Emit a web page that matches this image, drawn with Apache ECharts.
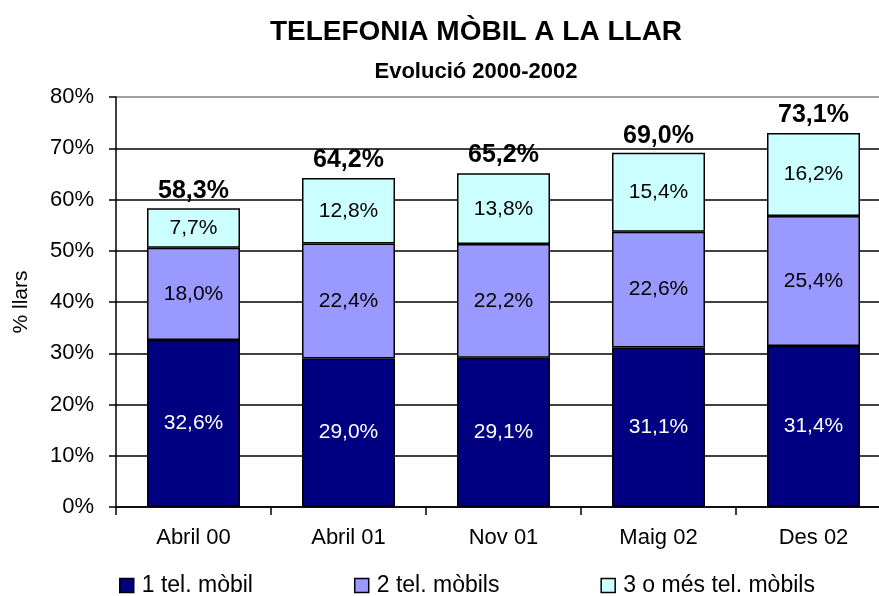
<!DOCTYPE html>
<html>
<head>
<meta charset="utf-8">
<script src="https://cdn.jsdelivr.net/npm/echarts@6/dist/echarts.min.js"></script>
<style>
	html, body { margin: 0; padding: 0; background: #fff; }
	#chart { width: 879px; height: 596px; }
</style>
</head>
<body>
<div id="chart"></div>
<script>
var categories = ['Abril 00', 'Abril 01', 'Nov 01', 'Maig 02', 'Des 02'];
var oneMobile = [32.6, 29.0, 29.1, 31.1, 31.4];
var twoMobiles = [18.0, 22.4, 22.2, 22.6, 25.4];
var threeMobiles = [7.7, 12.8, 13.8, 15.4, 16.2];
var totals = [58.3, 64.2, 65.2, 69.0, 73.1];
var seriesNames = ['1 tel. mòbil', '2 tel. mòbils', '3 o més tel. mòbils'];
var yTicks = [0, 10, 20, 30, 40, 50, 60, 70, 80];

var font = 'Liberation Sans, Arial, sans-serif';

function pct(v){ //format 12.8 -> 12,8%
	return v.toFixed(1).replace('.', ',') + '%';
}

function barSeries(name, data, color, labelColor){
	return {
		name: name,
		type: 'bar',
		stack: 'llars',
		barCategoryGap: '40%',
		data: data,
		itemStyle: { color: color, borderColor: '#000', borderWidth: 1.5 },
		label: {
			show: true,
			position: 'inside',
			color: labelColor,
			fontFamily: font,
			fontSize: 21,
			formatter: function(p){ return pct(p.value); }
		}
	};
}

var totalPoints = [];
for(var i=0; i<categories.length; i++){
	totalPoints.push([categories[i], totals[i]]);
}

var option = {
	animation: false,
	backgroundColor: '#fff',
	title: {
		text: 'TELEFONIA MÒBIL A LA LLAR',
		subtext: 'Evolució 2000-2002',
		left: 471,
		textAlign: 'center',
		top: 13,
		itemGap: 15,
		textStyle: { fontFamily: font, fontWeight: 'bold', fontSize: 28, color: '#000' },
		subtextStyle: { fontFamily: font, fontWeight: 'bold', fontSize: 22, color: '#000' }
	},
	legend: {
		data: seriesNames,
		top: 569,
		left: 114,
		itemGap: 101,
		itemWidth: 14,
		itemHeight: 14,
		icon: 'rect',
		itemStyle: { borderColor: '#000', borderWidth: 1.5 },
		textStyle: { fontFamily: font, fontSize: 23, color: '#000', padding: [0, 0, 0, 3] }
	},
	grid: {
		left: 116,
		width: 775,
		top: 97,
		bottom: 89,
		outerBoundsMode: 'none'
	},
	xAxis: {
		type: 'category',
		data: categories,
		axisLine: { lineStyle: { color: '#000', width: 1.5 } },
		axisTick: { show: true, length: 8, lineStyle: { color: '#000', width: 1.5 } },
		axisLabel: { margin: 20, fontFamily: font, fontSize: 22, color: '#000' }
	},
	yAxis: {
		type: 'value',
		min: yTicks[0],
		max: yTicks[yTicks.length - 1],
		interval: 10,
		name: '% llars',
		nameLocation: 'middle',
		nameGap: 84,
		nameTextStyle: { fontFamily: font, fontSize: 21, color: '#000' },
		axisLine: { show: true, lineStyle: { color: '#000', width: 1.5 } },
		axisTick: { show: true, length: 7, lineStyle: { color: '#000', width: 1.5 } },
		axisLabel: {
			margin: 22,
			fontFamily: font,
			fontSize: 22,
			color: '#000',
			formatter: function(v){ return v + '%'; }
		},
		splitLine: {
			show: true,
			lineStyle: {
				color: ['#000', '#000', '#000', '#000', '#000', '#000', '#000', '#000', '#808080'],
				width: 1.5
			}
		}
	},
	series: [
		barSeries(seriesNames[0], oneMobile, '#000080', '#fff'),
		barSeries(seriesNames[1], twoMobiles, '#9999ff', '#000'),
		barSeries(seriesNames[2], threeMobiles, '#ccffff', '#000'),
		{
			name: 'total',
			type: 'scatter',
			data: totalPoints,
			symbolSize: 0,
			itemStyle: { color: '#000' },
			z: 5,
			label: {
				show: true,
				position: 'top',
				distance: 5,
				fontFamily: font,
				fontWeight: 'bold',
				fontSize: 25,
				color: '#000',
				opacity: 1,
				textBorderWidth: 0,
				formatter: function(p){ return pct(p.value[1]); }
			}
		}
	]
};

var myChart = echarts.init(document.getElementById('chart'));
myChart.setOption(option);
</script>
</body>
</html>
